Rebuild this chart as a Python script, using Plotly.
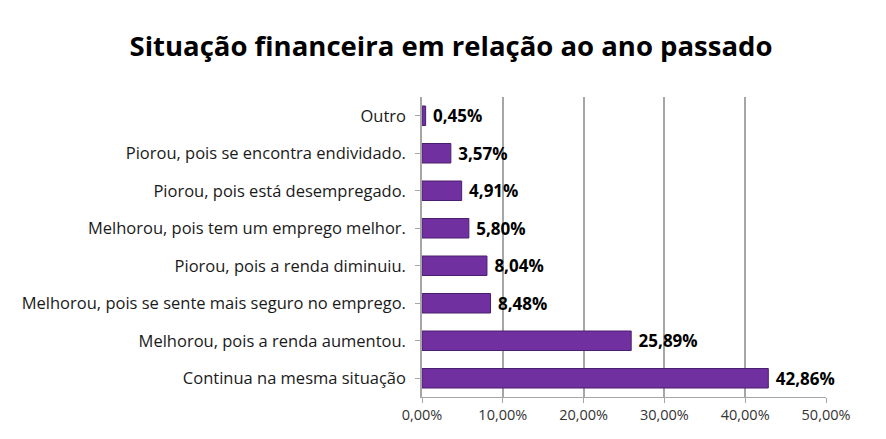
import plotly.graph_objects as go

categories = [
    "Outro",
    "Piorou, pois se encontra endividado.",
    "Piorou, pois está desempregado.",
    "Melhorou, pois tem um emprego melhor.",
    "Piorou, pois a renda diminuiu.",
    "Melhorou, pois se sente mais seguro no emprego.",
    "Melhorou, pois a renda aumentou.",
    "Continua na mesma situação",
]
values = [0.45, 3.57, 4.91, 5.80, 8.04, 8.48, 25.89, 42.86]
x_ticks = [0, 10, 20, 30, 40, 50]
x_ticktext = [f"{v:.2f}%".replace(".", ",") for v in x_ticks]

fig = go.Figure(
    go.Bar(
        y=categories,
        x=values,
        orientation="h",
        width=0.52,
        marker=dict(color="#7030A0", line=dict(color="#4B1F6F", width=1)),
        texttemplate="\u00a0%{x:.2f}%",
        textposition="outside",
        constraintext="none",
        textfont=dict(family="Open Sans", size=17, color="#000000", weight="bold"),
        cliponaxis=False,
    )
)

fig.update_layout(
    width=886,
    height=439,
    separators=",.",
    paper_bgcolor="white",
    plot_bgcolor="white",
    margin=dict(l=414, r=68, t=89, b=50),
    title=dict(
        text="<b>Situação financeira em relação ao ano passado</b>",
        x=0.5,
        xanchor="center",
        y=0.913,
        yanchor="middle",
        font=dict(family="Open Sans", size=27.5, color="#000000"),
    ),
    showlegend=False,
    xaxis=dict(
        range=[0, 50],
        tickvals=x_ticks,
        ticktext=x_ticktext,
        automargin=False,
        showgrid=True,
        gridcolor="#A6A6A6",
        gridwidth=1.5,
        showline=True,
        linecolor="#A6A6A6",
        ticks="outside",
        ticklen=5,
        tickcolor="#A6A6A6",
        tickfont=dict(family="Open Sans", size=14.5, color="#333333"),
        zeroline=False,
    ),
    yaxis=dict(
        autorange="reversed",
        automargin=False,
        showline=True,
        linecolor="#A6A6A6",
        linewidth=1.5,
        ticks="outside",
        ticklen=5,
        tickcolor="#A6A6A6",
        tickfont=dict(family="Open Sans", size=16.5, color="#1a1a1a"),
        ticklabelstandoff=6,
    ),
)

fig.write_html("out.html")
